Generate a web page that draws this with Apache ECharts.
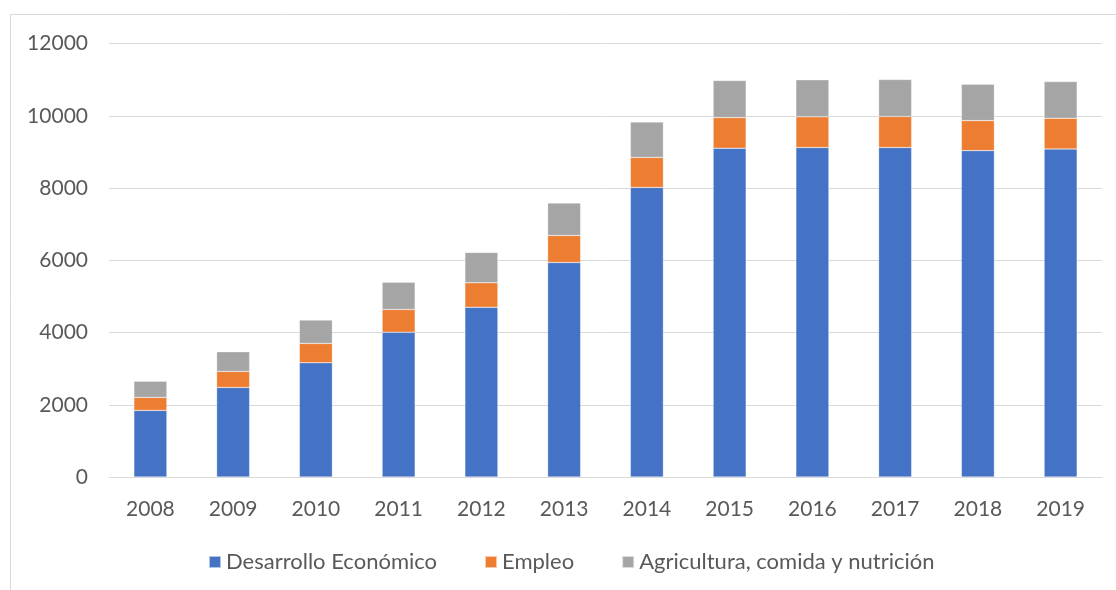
<!DOCTYPE html>
<html>
<head>
<meta charset="utf-8">
<script src="https://cdn.jsdelivr.net/npm/echarts@6/dist/echarts.min.js"></script>
<style>html,body{margin:0;padding:0;background:#fff}#c{width:1116px;height:590px}</style>
</head>
<body>
<div id="c"></div>
<script>
const categories = ['2008','2009','2010','2011','2012','2013','2014','2015','2016','2017','2018','2019'];
const desarrollo = [1845, 2480, 3165, 4010, 4700, 5940, 8020, 9105, 9125, 9125, 9040, 9085];
const empleo     = [360, 445, 535, 630, 680, 750, 830, 850, 850, 860, 830, 850];
const agricultura= [450, 545, 645, 755, 840, 895, 980, 1025, 1025, 1025, 1005, 1015];
const seriesNames = ['Desarrollo Económico', 'Empleo', 'Agricultura, comida y nutrición'];
const colors = ['#4472C4', '#ED7D31', '#A5A5A5'];

const chart = echarts.init(document.getElementById('c'), null, {renderer: 'canvas'});
const font = 'Lato';
const mk = (name, data, color) => ({
  name, type: 'bar', stack: 'total', data, barWidth: 33,
  itemStyle: {color, borderColor: 'rgba(255,255,255,0.6)', borderWidth: 0.5},
  emphasis: {disabled: true}
});
chart.setOption({
  animation: false,
  backgroundColor: '#fff',
  graphic: [{type: 'rect', shape: {x: 10.5, y: 14.5, width: 1120, height: 600}, style: {fill: 'none', stroke: '#D9D9D9', lineWidth: 1}, silent: true}],
  grid: {left: 109, right: 14, top: 43.7, bottom: 113, containLabel: false},
  legend: {
    data: seriesNames, bottom: 12, left: 203, itemWidth: 12, itemHeight: 12, itemGap: 47,
    icon: 'rect',
    textStyle: {color: '#595959', fontSize: 22, fontFamily: font}
  },
  xAxis: {
    type: 'category', data: categories,
    axisLine: {show: true, lineStyle: {color: '#D9D9D9', width: 1}},
    axisTick: {show: false},
    axisLabel: {color: '#595959', fontSize: 21, fontFamily: font, margin: 22}
  },
  yAxis: {
    type: 'value', min: 0, max: 12000, interval: 2000,
    axisLine: {show: false}, axisTick: {show: false},
    splitLine: {lineStyle: {color: '#D9D9D9', width: 1}},
    axisLabel: {color: '#595959', fontSize: 21, fontFamily: font, margin: 21, formatter: v => String(v)}
  },
  series: [
    mk(seriesNames[0], desarrollo, colors[0]),
    mk(seriesNames[1], empleo, colors[1]),
    mk(seriesNames[2], agricultura, colors[2])
  ]
});
</script>
</body>
</html>
